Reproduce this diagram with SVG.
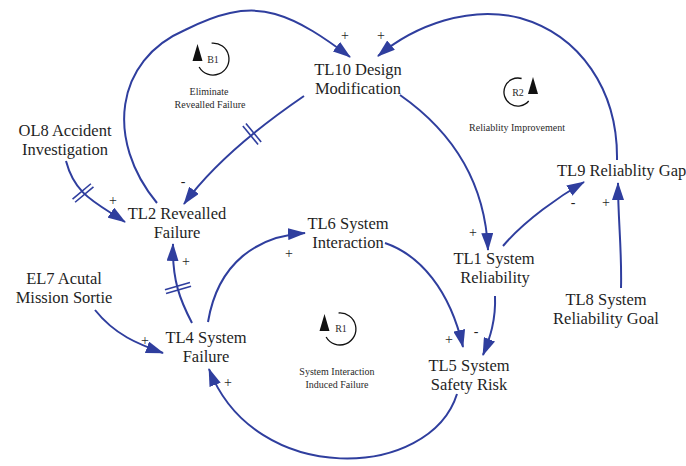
<svg xmlns="http://www.w3.org/2000/svg" width="686" height="466" viewBox="0 0 686 466">
  <defs>
    <marker id="ah" markerUnits="userSpaceOnUse" markerWidth="18" markerHeight="12" refX="17" refY="6" orient="auto">
      <path d="M0,0 L18,6 L0,12 Z" fill="#2f3e9e"/>
    </marker>
    <style>
      .link { fill: none; stroke: #2f3e9e; stroke-width: 2; marker-end: url(#ah); }
      .delay line { stroke: #2f3e9e; stroke-width: 1.6; }
      .node text { font-family: "Liberation Serif", "Times New Roman", serif; font-size: 16.5px; fill: #1f1f1f; text-anchor: middle; }
      .pol { font-family: "Liberation Serif", "Times New Roman", serif; font-size: 14px; fill: #1f1f1f; text-anchor: middle; }
      .loop path.arc { fill: none; stroke: #111; stroke-width: 1.3; }
      .loop path.tip { fill: #111; }
      .loop text { font-family: "Liberation Serif", "Times New Roman", serif; font-size: 10px; fill: #2a2a2a; text-anchor: middle; }
    </style>
  </defs>
  <rect width="686" height="466" fill="#fff"/>

  <!-- causal links -->
  <g id="connectors">
    <path class="link" d="M157,203 C105,140 115,60 185,30 C215,15 245,5 275,14 C300,21 325,38 350,57"/>
    <path class="link" d="M617,160 C618,90 580,35 520,18 C470,5 415,25 378,56"/>
    <path class="link" d="M304,96 Q222,152 184,204"/>
    <path class="link" d="M66,161 C75,195 95,202 125,222"/>
    <path class="link" d="M192,323 C180,300 172,280 173,244"/>
    <path class="link" d="M95,310 C115,335 138,344 163,353"/>
    <path class="link" d="M208,322 C218,262 258,236 305,233"/>
    <path class="link" d="M385,243 C420,255 450,290 463,347"/>
    <path class="link" d="M400,95 C450,130 485,180 488,250"/>
    <path class="link" d="M503,246 C525,220 560,196 584,182"/>
    <path class="link" d="M621,288 C622,250 618,220 618,183"/>
    <path class="link" d="M495,296 C496,320 490,338 483,355"/>
    <path class="link" d="M457,394 C430,480 255,488 209,369"/>

    <!-- delay marks -->
    <g class="delay" transform="translate(252,134) rotate(140.7)">
      <line x1="-2" y1="-12" x2="-2" y2="12"/><line x1="2" y1="-12" x2="2" y2="12"/>
    </g>
    <g class="delay" transform="translate(83,193) rotate(50)">
      <line x1="-2" y1="-12" x2="-2" y2="12"/><line x1="2" y1="-12" x2="2" y2="12"/>
    </g>
    <g class="delay" transform="translate(178,288) rotate(-106)">
      <line x1="-2" y1="-13" x2="-2" y2="13"/><line x1="2" y1="-13" x2="2" y2="13"/>
    </g>

    <!-- link polarities -->
    <text class="pol" x="345" y="40">+</text>
    <text class="pol" x="381" y="40">+</text>
    <text class="pol" x="183" y="186">-</text>
    <text class="pol" x="113" y="205">+</text>
    <text class="pol" x="186" y="266">+</text>
    <text class="pol" x="145" y="345">+</text>
    <text class="pol" x="289" y="258">+</text>
    <text class="pol" x="449" y="344">+</text>
    <text class="pol" x="476" y="336">-</text>
    <text class="pol" x="473" y="237">+</text>
    <text class="pol" x="573" y="207">-</text>
    <text class="pol" x="606" y="207">+</text>
    <text class="pol" x="228" y="387">+</text>
  </g>

  <!-- variables -->
  <g id="tl10" class="node"><text x="358" y="75">TL10 Design</text><text x="358" y="94">Modification</text></g>
  <g id="ol8" class="node"><text x="65" y="136">OL8 Accident</text><text x="65" y="155">Investigation</text></g>
  <g id="tl2" class="node"><text x="177" y="219">TL2 Revealled</text><text x="177" y="238">Failure</text></g>
  <g id="el7" class="node"><text x="64" y="284">EL7 Acutal</text><text x="64" y="303">Mission Sortie</text></g>
  <g id="tl4" class="node"><text x="206" y="343">TL4 System</text><text x="206" y="362">Failure</text></g>
  <g id="tl6" class="node"><text x="348" y="229">TL6 System</text><text x="348" y="248">Interaction</text></g>
  <g id="tl1" class="node"><text x="494" y="264">TL1 System</text><text x="495" y="283">Reliability</text></g>
  <g id="tl5" class="node"><text x="469" y="371">TL5 System</text><text x="469" y="390">Safety Risk</text></g>
  <g id="tl9" class="node"><text x="557" y="176" style="text-anchor:start">TL9 Reliablity Gap</text></g>
  <g id="tl8" class="node"><text x="606" y="305">TL8 System</text><text x="606" y="324">Reliability Goal</text></g>

  <!-- loop identifiers -->
  <g id="loop-b1" class="loop">
    <path class="arc" d="M211.6,43.1 A16,16 0 1 1 199.1,67"/>
    <path class="tip" d="M197.5,44 L202.5,61 L192.5,61 Z"/>
    <text x="213" y="63">B1</text>
    <text x="209" y="95">Eliminate</text>
    <text x="210" y="108">Revealled Failure</text>
  </g>
  <g id="loop-r2" class="loop">
    <path class="arc" d="M521.6,78.5 A14,14 0 1 0 528.7,101"/>
    <path class="tip" d="M533,77 L538,94 L528,94 Z"/>
    <text x="518" y="96">R2</text>
    <text x="517" y="131">Reliablity Improvement</text>
  </g>
  <g id="loop-r1" class="loop">
    <path class="arc" d="M338.6,313 A16,16 0 1 1 326.1,337"/>
    <path class="tip" d="M324.5,314 L329.5,331 L319.5,331 Z"/>
    <text x="341" y="332">R1</text>
    <text x="337" y="375">System Interaction</text>
    <text x="337" y="388">Induced Failure</text>
  </g>
</svg>
